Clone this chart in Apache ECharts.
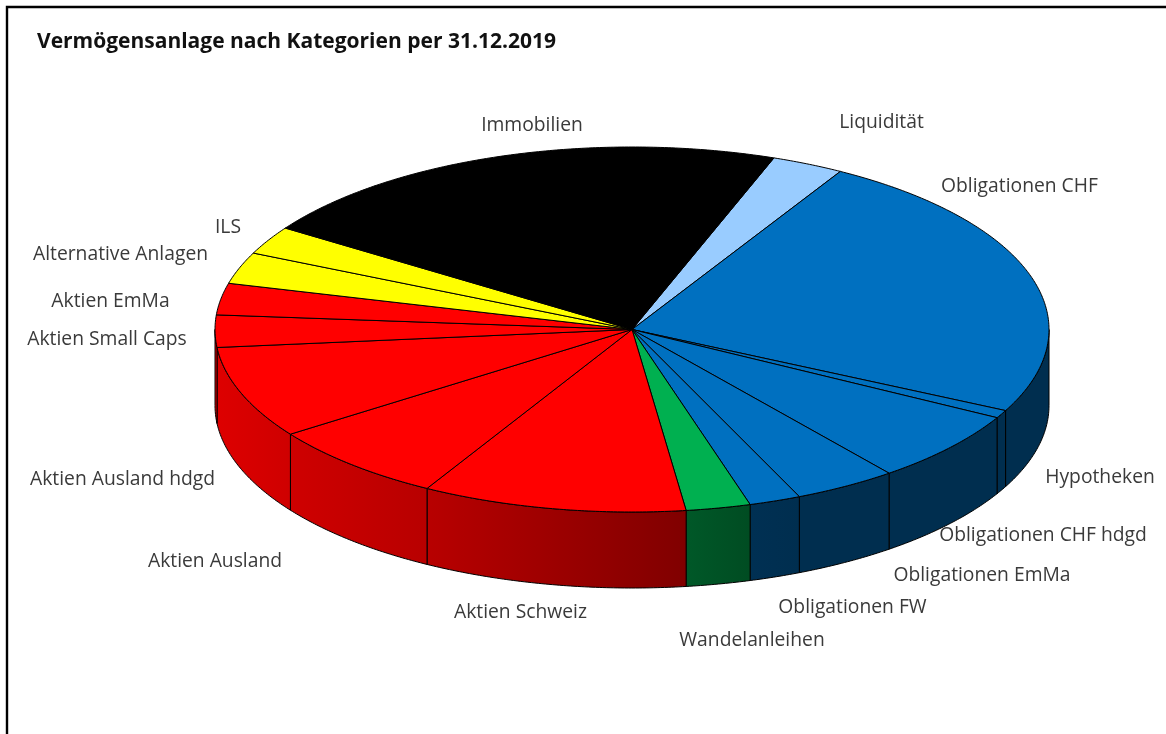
<!DOCTYPE html>
<html lang="de">
<head>
<meta charset="utf-8">
<title>Vermögensanlage nach Kategorien</title>
<script src="https://cdn.jsdelivr.net/npm/echarts@6/dist/echarts.min.js"></script>
<style>
  html, body { margin: 0; padding: 0; background: #fff; overflow: hidden; }
  #chart { width: 1166px; height: 734px; }
</style>
</head>
<body>
<div id="chart"></div>
<script>
// Portfolio shares in percent, clockwise from the top of the disc.
const categories = [
  'Liquidität', 'Obligationen CHF', 'Hypotheken', 'Obligationen CHF hdgd',
  'Obligationen EmMa', 'Obligationen FW', 'Wandelanleihen', 'Aktien Schweiz',
  'Aktien Ausland', 'Aktien Ausland hdgd', 'Aktien Small Caps', 'Aktien EmMa',
  'Alternative Anlagen', 'ILS', 'Immobilien'
];
const shares = [2.8, 24.0, 0.7, 6.4, 4.0, 2.0, 2.5, 10.25, 7.1, 8.15, 2.85, 2.8, 2.8, 2.5, 21.15];
const sliceColors = [
  '#99CCFF', '#0070C0', '#0070C0', '#0070C0', '#0070C0', '#0070C0', '#00B050', '#FF0000',
  '#FF0000', '#FF0000', '#FF0000', '#FF0000', '#FFFF00', '#FFFF00', '#000000'
];

// Layout of the tilted disc, in pixels.
const disc = { cx: 632, cy: 329.5, rx: 417, ry: 182.5, depth: 76, startAngle: 19.9 };

// Centre of each slice caption, in pixels.
const captionAnchors = {
  'Liquidität': [881.5, 123], 'Obligationen CHF': [1019.5, 187], 'Hypotheken': [1100, 478],
  'Obligationen CHF hdgd': [1043, 536], 'Obligationen EmMa': [982, 576], 'Obligationen FW': [852.5, 608],
  'Wandelanleihen': [752, 641], 'Aktien Schweiz': [520.5, 613], 'Aktien Ausland': [215, 562],
  'Aktien Ausland hdgd': [122.5, 480], 'Aktien Small Caps': [107, 340], 'Aktien EmMa': [110.5, 302],
  'Alternative Anlagen': [120.5, 255], 'ILS': [228, 228], 'Immobilien': [532, 126]
};

// Brightness of the rim by horizontal position: light on the left, dark on the right.
const rimShade = [[214, 0.87], [290, 0.81], [427, 0.72], [687, 0.5], [750, 0.43], [800, 0.41], [1048, 0.41]];

const total = shares.reduce((a, b) => a + b, 0);

function rimPoint(deg, drop) {
  const t = deg * Math.PI / 180;
  return [disc.cx + disc.rx * Math.sin(t), disc.cy - disc.ry * Math.cos(t) + drop];
}

function arcPoints(from, to, drop) {
  const n = Math.max(2, Math.ceil(Math.abs(to - from) * 2));
  const pts = [];
  for (let i = 0; i <= n; i++) pts.push(rimPoint(from + (to - from) * i / n, drop));
  return pts;
}

function shadeColor(hex, k) {
  const c = [1, 3, 5].map(i => Math.round(parseInt(hex.substr(i, 2), 16) * k));
  return 'rgb(' + c.join(',') + ')';
}

function rimFill(hex) {
  const x0 = rimShade[0][0], x1 = rimShade[rimShade.length - 1][0];
  return {
    type: 'linear', global: true, x: x0, y: 0, x2: x1, y2: 0,
    colorStops: rimShade.map(s => ({ offset: (s[0] - x0) / (x1 - x0), color: shadeColor(hex, s[1]) }))
  };
}

function renderSlice(params, api) {
  const i = params.dataIndex;
  let before = 0;
  for (let k = 0; k < i; k++) before += shares[k];
  const a0 = disc.startAngle + before / total * 360;
  const a1 = a0 + api.value(0) / total * 360;
  const color = sliceColors[i];
  const children = [];

  // The rim only shows on the front half of the disc.
  const f0 = Math.max(a0, 90), f1 = Math.min(a1, 270);
  if (f1 > f0) {
    children.push({
      type: 'polygon', z2: 1,
      shape: { points: arcPoints(f0, f1, 0).concat(arcPoints(f1, f0, disc.depth)) },
      style: { fill: rimFill(color), stroke: '#000', lineWidth: 1, lineJoin: 'round' }
    });
  }

  children.push({
    type: 'polygon', z2: 2,
    shape: { points: [[disc.cx, disc.cy]].concat(arcPoints(a0, a1, 0)) },
    style: { fill: color, stroke: '#000', lineWidth: 1, lineJoin: 'round' }
  });

  const anchor = captionAnchors[categories[i]];
  children.push({
    type: 'text', z2: 3, x: anchor[0], y: anchor[1],
    style: {
      text: categories[i], align: 'center', verticalAlign: 'middle',
      fill: '#3a3a3a', font: '19.3px "Open Sans", sans-serif'
    }
  });
  return { type: 'group', children };
}

const chart = echarts.init(document.getElementById('chart'), null, { renderer: 'canvas' });
chart.setOption({
  animation: false,
  backgroundColor: '#fff',
  title: {
    text: 'Vermögensanlage nach Kategorien per 31.12.2019',
    left: 37, top: 32, padding: 0,
    textStyle: { fontFamily: '"Open Sans", sans-serif', fontSize: 21, fontWeight: 'bold', color: '#111' }
  },
  graphic: [{
    type: 'rect', silent: true,
    shape: { x: 7, y: 7, width: 1200, height: 800 },
    style: { fill: 'none', stroke: '#000', lineWidth: 2.4 }
  }],
  series: [{
    type: 'custom',
    coordinateSystem: 'none',
    renderItem: renderSlice,
    data: categories.map((name, i) => ({ name, value: [shares[i]] })),
    silent: true
  }]
});
</script>
</body>
</html>
